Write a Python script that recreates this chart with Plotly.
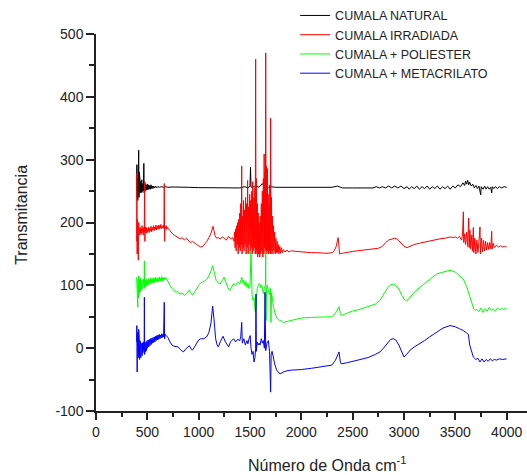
import plotly.graph_objects as go

# ---- Data (wavenumber cm^-1, transmitancia) ----
natural_pts = [
    (396, 250), (398, 292), (401, 238), (404, 270), (407, 235), (410, 300), (413, 245), (416, 315),
    (419, 240), (422, 280), (425, 245), (428, 270), (431, 248), (434, 265), (437, 247), (440, 262),
    (443, 250), (446, 268), (449, 248), (452, 260), (455, 250), (458, 262), (462, 250), (466, 294),
    (469, 247), (472, 264), (476, 250), (480, 262), (485, 251), (490, 260), (495, 252), (500, 261),
    (506, 252), (512, 260), (518, 253), (524, 259), (530, 253), (536, 260), (542, 254), (548, 258),
    (555, 254), (562, 258), (570, 255), (580, 258), (590, 255), (600, 257), (620, 256), (640, 257),
    (660, 256), (680, 257), (700, 256), (750, 256.5), (800, 256), (900, 256), (1000, 255.5),
    (1100, 255.5), (1200, 255.5), (1300, 255.5), (1400, 255), (1450, 257), (1480, 255), (1500, 258),
    (1505, 288), (1510, 256), (1540, 257), (1560, 260), (1580, 256), (1600, 258), (1620, 262),
    (1640, 257), (1660, 259), (1680, 256), (1700, 257), (1750, 256), (1800, 256), (1900, 256),
    (2000, 256), (2100, 256), (2200, 256), (2300, 256), (2350, 258), (2370, 257), (2400, 255),
    (2500, 255), (2600, 255), (2700, 255), (2730, 257), (2760, 255), (2790, 257), (2820, 255),
    (2850, 258), (2880, 255), (2910, 258), (2940, 255), (2970, 258), (3000, 254), (3030, 257),
    (3050, 253), (3075, 257), (3100, 254), (3125, 258), (3150, 253), (3175, 257), (3200, 254),
    (3225, 258), (3250, 253), (3275, 257), (3300, 254), (3325, 258), (3350, 253), (3375, 257),
    (3400, 254), (3425, 258), (3450, 253), (3475, 258), (3500, 255), (3525, 260), (3550, 257),
    (3575, 263), (3590, 259), (3600, 266), (3610, 261), (3620, 267), (3630, 260), (3640, 264),
    (3655, 258), (3670, 261), (3685, 255), (3700, 259), (3715, 254), (3730, 258), (3747, 244),
    (3752, 257), (3770, 253), (3785, 258), (3800, 253), (3815, 257), (3830, 253), (3845, 256),
    (3854, 247), (3860, 257), (3875, 254), (3890, 257), (3910, 254), (3930, 257), (3950, 255),
    (3975, 257), (4000, 256),
]

irradiada_pts = [
    (396, 170), (398, 278), (401, 150), (404, 205), (408, 175), (412, 140), (416, 200), (420, 185),
    (424, 195), (428, 180), (432, 192), (436, 183), (440, 190), (444, 182), (448, 195), (452, 186),
    (456, 190), (460, 180), (465, 192), (470, 185), (474, 266), (476, 170), (480, 193), (485, 184),
    (490, 192), (495, 183), (500, 190), (506, 186), (512, 193), (518, 184), (524, 191), (530, 187),
    (536, 194), (542, 185), (548, 192), (554, 188), (560, 195), (566, 187), (572, 193), (578, 189),
    (584, 196), (590, 188), (596, 194), (602, 190), (608, 196), (614, 189), (620, 195), (626, 191),
    (632, 197), (638, 190), (644, 194), (650, 192), (656, 196), (662, 190), (665, 262), (668, 170),
    (672, 193), (678, 191), (684, 195), (690, 189), (696, 192), (705, 190), (715, 188), (725, 186),
    (740, 183), (760, 180), (780, 178), (800, 177), (820, 174), (840, 176), (860, 172), (880, 175),
    (900, 171), (920, 168), (940, 170), (960, 167), (980, 165), (1000, 163), (1020, 161), (1040, 162),
    (1060, 166), (1080, 170), (1100, 176), (1120, 183), (1140, 194), (1150, 188), (1160, 179),
    (1175, 175), (1190, 176), (1210, 174), (1230, 177), (1250, 175), (1270, 172), (1290, 178),
    (1310, 174), (1330, 176), (1345, 170),
    (1350, 185), (1355, 160), (1360, 190), (1365, 155), (1370, 195), (1375, 165), (1380, 200),
    (1385, 150), (1390, 205), (1395, 160), (1400, 215), (1405, 155), (1410, 230), (1415, 165),
    (1419, 290), (1423, 150), (1428, 210), (1432, 160), (1437, 235), (1442, 155), (1447, 220),
    (1452, 165), (1457, 240), (1462, 150), (1467, 230), (1472, 160), (1477, 267), (1482, 150),
    (1487, 225), (1492, 165), (1497, 245), (1502, 150), (1507, 235), (1512, 160), (1517, 250),
    (1522, 150), (1527, 265), (1532, 155), (1537, 240), (1542, 160), (1547, 255), (1551, 150),
    (1555, 460), (1559, 150), (1563, 270), (1567, 155), (1571, 230), (1575, 145), (1580, 215),
    (1585, 150), (1590, 200), (1595, 145), (1600, 210), (1605, 150), (1610, 230), (1615, 155),
    (1620, 250), (1625, 145), (1630, 270), (1635, 150), (1638, 309), (1642, 160), (1646, 280),
    (1650, 150), (1653, 470), (1657, 155), (1661, 290), (1665, 150), (1669, 286), (1673, 155),
    (1677, 245), (1681, 150), (1685, 230), (1689, 155), (1693, 260), (1697, 150), (1701, 366),
    (1705, 150), (1709, 240), (1714, 155), (1719, 210), (1724, 150), (1729, 195), (1734, 155),
    (1740, 185), (1746, 150), (1752, 175), (1758, 152), (1764, 170), (1770, 152), (1776, 165),
    (1782, 150), (1790, 162), (1798, 151), (1806, 160), (1815, 152), (1825, 157), (1840, 153),
    (1860, 156), (1880, 153), (1900, 155), (1950, 154), (2000, 153), (2050, 153), (2100, 152),
    (2150, 152), (2200, 151), (2250, 151), (2300, 152), (2320, 155), (2340, 162), (2350, 170),
    (2358, 176), (2362, 172), (2366, 158), (2372, 150), (2400, 151), (2450, 153), (2500, 154),
    (2550, 155), (2600, 156), (2650, 157), (2700, 158), (2750, 159), (2790, 162), (2820, 168),
    (2850, 172), (2880, 174), (2910, 175), (2940, 173), (2970, 167), (3000, 162), (3030, 160),
    (3060, 162), (3100, 165), (3150, 167), (3200, 169), (3250, 171), (3300, 172), (3350, 174),
    (3400, 175), (3450, 177), (3480, 176), (3500, 177), (3520, 175), (3540, 178), (3560, 172),
    (3570, 180), (3578, 217), (3582, 168), (3590, 182), (3600, 165), (3610, 185), (3620, 162),
    (3630, 207), (3635, 160), (3642, 188), (3650, 158), (3660, 180), (3668, 155), (3675, 192),
    (3680, 152), (3690, 175), (3700, 150), (3710, 172), (3720, 152), (3730, 170), (3740, 193),
    (3745, 150), (3755, 175), (3765, 153), (3775, 172), (3785, 155), (3795, 170), (3805, 156),
    (3815, 168), (3825, 157), (3835, 168), (3845, 158), (3854, 186), (3858, 158), (3868, 167),
    (3880, 160), (3900, 164), (3920, 161), (3940, 163), (3960, 161), (3980, 162), (4000, 161),
]

poliester_pts = [
    (396, 113), (398, 95), (401, 70), (404, 105), (407, 65), (410, 110), (413, 80), (416, 115),
    (419, 85), (422, 108), (425, 88), (428, 112), (431, 90), (434, 110), (437, 92), (440, 107),
    (443, 94), (446, 109), (449, 95), (452, 106), (456, 96), (460, 110), (465, 98), (469, 95),
    (471, 139), (474, 96), (478, 108), (482, 98), (487, 110), (492, 99), (497, 108), (502, 100),
    (508, 111), (514, 101), (520, 109), (526, 102), (532, 112), (538, 103), (544, 110), (550, 104),
    (556, 112), (562, 105), (568, 111), (574, 104), (580, 113), (586, 106), (592, 111), (598, 105),
    (604, 112), (610, 106), (616, 113), (622, 107), (628, 111), (634, 106), (640, 114), (646, 107),
    (652, 112), (658, 108), (665, 113), (672, 109), (680, 112), (690, 110), (700, 106), (720, 100),
    (740, 95), (760, 92), (780, 89), (800, 90), (820, 86), (840, 88), (860, 84), (880, 86),
    (900, 90), (910, 93), (920, 88), (940, 85), (960, 89), (980, 95), (1000, 100), (1020, 104),
    (1040, 105), (1060, 107), (1080, 110), (1100, 115), (1120, 123), (1136, 131), (1150, 122),
    (1170, 108), (1190, 104), (1210, 102), (1230, 108), (1247, 113), (1265, 105), (1285, 96),
    (1305, 92), (1320, 98), (1340, 103), (1360, 100), (1380, 105), (1400, 102), (1410, 109),
    (1420, 113), (1430, 104), (1440, 108), (1450, 100), (1460, 106), (1470, 97), (1480, 103),
    (1490, 95), (1500, 99), (1510, 155), (1513, 92), (1520, 85), (1530, 76), (1540, 80),
    (1549, 60), (1555, 58), (1562, 75), (1570, 95), (1580, 100), (1590, 103), (1597, 102),
    (1605, 96), (1615, 100), (1625, 90), (1630, 87), (1640, 95), (1650, 100), (1653, 155),
    (1656, 44), (1662, 95), (1670, 100), (1680, 90), (1690, 85), (1700, 95), (1704, 41),
    (1710, 88), (1720, 70), (1730, 65), (1745, 55), (1760, 48), (1780, 45), (1800, 44),
    (1825, 41), (1850, 42), (1900, 45), (1950, 47), (2000, 48), (2100, 49), (2200, 50),
    (2296, 50), (2330, 55), (2350, 60), (2367, 66), (2380, 55), (2390, 52), (2450, 56),
    (2500, 59), (2571, 62), (2650, 66), (2720, 70), (2766, 76), (2800, 85), (2840, 96),
    (2870, 101), (2896, 102), (2920, 100), (2950, 94), (2980, 84), (3000, 78), (3026, 75),
    (3060, 82), (3100, 89), (3156, 97), (3200, 103), (3250, 110), (3318, 118), (3380, 121),
    (3448, 124), (3500, 121), (3540, 116), (3578, 110), (3610, 98), (3630, 88), (3643, 81),
    (3660, 70), (3680, 62), (3692, 60), (3710, 62), (3730, 58), (3750, 64), (3770, 57),
    (3790, 63), (3810, 59), (3830, 65), (3850, 60), (3870, 62), (3890, 59), (3910, 64),
    (3930, 61), (3950, 63), (3970, 62), (4000, 63),
]

metacrilato_pts = [
    (396, 10), (398, 36), (401, -38), (404, 25), (407, -30), (410, 20), (413, -15), (416, 30),
    (419, -10), (422, 15), (425, -18), (428, 12), (431, -12), (434, 10), (437, -15), (440, 8),
    (443, -10), (446, 5), (449, -12), (452, 8), (456, -8), (460, 10), (465, -5), (469, -2),
    (471, 81), (474, -10), (478, 8), (482, -6), (487, 10), (492, -4), (497, 12), (502, 0),
    (508, 13), (514, 2), (520, 14), (526, 4), (532, 15), (538, 6), (544, 16), (550, 8),
    (556, 17), (562, 9), (568, 18), (574, 10), (580, 19), (586, 12), (592, 20), (598, 13),
    (604, 21), (610, 14), (616, 22), (622, 15), (628, 21), (634, 16), (640, 23), (646, 17),
    (652, 22), (658, 18), (665, 73), (668, 15), (675, 22), (685, 20), (700, 17), (720, 10),
    (740, 5), (760, 3), (780, 3), (800, 2), (820, -2), (840, -5), (851, -6), (870, -2),
    (890, 2), (909, 4), (925, -1), (940, -3), (960, 2), (980, 8), (1000, 13), (1020, 15),
    (1050, 15), (1078, 18), (1100, 25), (1120, 40), (1136, 67), (1150, 45), (1165, 15),
    (1180, 5), (1192, 2), (1210, 10), (1237, 19), (1260, 10), (1275, 5), (1292, 2), (1310, 10),
    (1340, 15), (1360, 10), (1380, 14), (1400, 12), (1410, 18), (1419, 41), (1425, 8),
    (1440, 15), (1455, 5), (1470, 12), (1480, 7), (1490, 15), (1502, 20), (1510, 0),
    (1520, -10), (1530, -5), (1539, -22), (1548, -15), (1555, 0), (1558, 86), (1562, -5),
    (1570, 10), (1580, 5), (1590, 8), (1597, 5), (1610, 15), (1620, 8), (1630, 12), (1640, 0),
    (1646, 89), (1650, 0), (1653, -4), (1665, 8), (1679, 12), (1690, -5), (1701, -70),
    (1706, -10), (1715, -5), (1727, -14), (1740, -25), (1760, -35), (1780, -40), (1792, -41),
    (1825, -38), (1860, -36), (1900, -35), (1955, -35), (2000, -34), (2100, -32), (2182, -30),
    (2250, -28), (2296, -27), (2330, -20), (2350, -12), (2367, -6), (2380, -22), (2390, -25),
    (2450, -23), (2500, -21), (2571, -19), (2650, -15), (2720, -10), (2766, -6), (2800, 0),
    (2840, 8), (2870, 14), (2896, 15), (2920, 13), (2950, 5), (2980, -8), (3000, -14),
    (3026, -10), (3060, -3), (3100, 2), (3156, 7), (3200, 12), (3250, 18), (3318, 25),
    (3380, 32), (3448, 36), (3500, 34), (3540, 31), (3578, 28), (3610, 24), (3627, 22),
    (3640, 5), (3655, -5), (3675, -14), (3700, -18), (3720, -16), (3740, -22), (3760, -17),
    (3780, -22), (3800, -18), (3820, -21), (3840, -17), (3860, -20), (3880, -18), (3900, -19),
    (3930, -17), (3960, -18), (4000, -17),
]

series_names = ["CUMALA NATURAL", "CUMALA IRRADIADA", "CUMALA + POLIESTER", "CUMALA + METACRILATO"]
series_colors = ["#000000", "#ff0000", "#00ff00", "#0000ff"]
series_data = [natural_pts, irradiada_pts, poliester_pts, metacrilato_pts]

x_tickvals = [0, 500, 1000, 1500, 2000, 2500, 3000, 3500, 4000]
y_tickvals = [-100, 0, 100, 200, 300, 400, 500]
y_ticktext = ["-100", "0", "100", "200", "300", "400", "500"]

FONT = "Liberation Sans, Arial, sans-serif"

fig = go.Figure()
for name, color, pts in zip(series_names, series_colors, series_data):
    xs = [p[0] for p in pts]
    ys = [p[1] for p in pts]
    fig.add_trace(go.Scatter(x=xs, y=ys, mode="lines", name=name,
                             line=dict(color=color, width=1)))

axis_common = dict(
    showgrid=False, zeroline=False, showline=True, linecolor="#222", linewidth=1.5,
    ticks="outside", tickcolor="#222", tickwidth=1.5,
    tickfont=dict(family=FONT, size=14, color="#222"),
)

fig.update_xaxes(range=[0, 4198], tickvals=x_tickvals, ticklen=7,
                 minor=dict(dtick=250, tick0=0, ticklen=4, ticks="outside", tickcolor="#222", tickwidth=1.5),
                 **axis_common)
fig.update_yaxes(range=[-100, 500], tickvals=y_tickvals, ticktext=y_ticktext, ticklen=8,
                 minor=dict(dtick=50, tick0=0, ticklen=5, ticks="outside", tickcolor="#222", tickwidth=1.5),
                 **axis_common)

fig.update_layout(
    width=527, height=475,
    margin=dict(l=96, r=0, t=34, b=64),
    plot_bgcolor="white", paper_bgcolor="white",
    font=dict(family=FONT, color="#222"),
    showlegend=True,
    legend=dict(x=0.462, y=1.088, xanchor="left", yanchor="top",
                bgcolor="rgba(0,0,0,0)", borderwidth=0,
                font=dict(family=FONT, size=12.5, color="#222"),
                tracegroupgap=0),
    annotations=[
        dict(text="Número de Onda cm<sup>-1</sup>", xref="paper", yref="paper",
             x=0.536, y=-0.14, xanchor="center", yanchor="middle", showarrow=False,
             font=dict(family=FONT, size=16, color="#222")),
        dict(text="Transmitancia", xref="paper", yref="paper",
             x=-0.172, y=0.52, xanchor="center", yanchor="middle", showarrow=False,
             textangle=-90, font=dict(family=FONT, size=16, color="#222")),
    ],
)

fig.write_html("out.html")
